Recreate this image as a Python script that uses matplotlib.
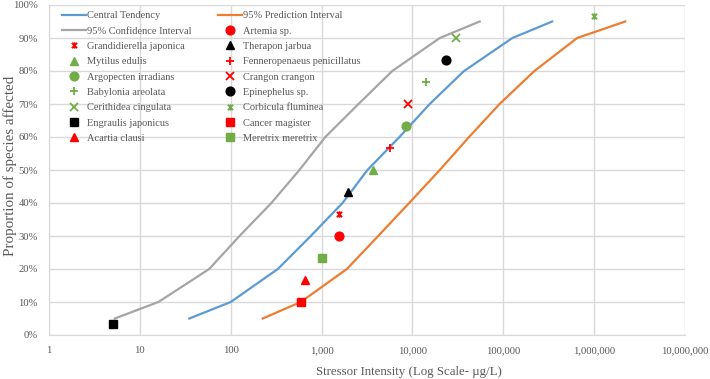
import matplotlib
matplotlib.use("Agg")
import matplotlib.pyplot as plt
from matplotlib.path import Path
from matplotlib.ticker import FixedLocator, FuncFormatter

plt.rcParams['font.family'] = ['Liberation Serif', 'DejaVu Serif']

# Fitted curves (percent affected vs stressor intensity)
pct_curve = [5, 10, 20, 30, 40, 50, 60, 70, 80, 90, 95]
central_x = [35, 100, 330, 760, 1700, 3200, 7200, 15500, 37000, 126000, 345000]
confidence_x = [5.3, 16, 58, 125, 280, 570, 1100, 2550, 6000, 20000, 55000]
prediction_x = [225, 590, 1900, 4200, 9200, 20000, 42000, 91000, 220000, 650000, 2200000]

# Species data points
species = ["Engraulis japonicus", "Cancer magister", "Acartia clausi", "Meretrix meretrix",
           "Artemia sp.", "Grandidierella japonica", "Therapon jarbua", "Mytilus edulis",
           "Fenneropenaeus penicillatus", "Argopecten irradians", "Crangon crangon",
           "Babylonia areolata", "Epinephelus sp.", "Cerithidea cingulata", "Corbicula fluminea"]
species_x = [5.0, 590, 665, 1000, 1550, 1550, 1950, 3650, 5600, 8600, 8900, 14200, 23600, 30000, 1000000]
species_pct = [3.33, 10.0, 16.67, 23.33, 30.0, 36.67, 43.33, 50.0, 56.67, 63.33, 70.0, 76.67, 83.33, 90.0, 96.67]

RED, BLACK, GREEN = '#FF0000', '#000000', '#70AD47'
TXT = '#595959'
star = Path([(-1, -1), (1, 1), (-1, 1), (1, -1), (0, -1.2), (0, 1.2)],
            [Path.MOVETO, Path.LINETO, Path.MOVETO, Path.LINETO, Path.MOVETO, Path.LINETO])
styles = {
    "Engraulis japonicus": (BLACK, 's', 6.3),
    "Cancer magister": (RED, 's', 6.3),
    "Acartia clausi": (RED, '^', 6.3),
    "Meretrix meretrix": (GREEN, 's', 6.3),
    "Artemia sp.": (RED, 'o', 6.3),
    "Grandidierella japonica": (RED, star, 4.6),
    "Therapon jarbua": (BLACK, '^', 6.3),
    "Mytilus edulis": (GREEN, '^', 6.3),
    "Fenneropenaeus penicillatus": (RED, '+', 6.3),
    "Argopecten irradians": (GREEN, 'o', 6.3),
    "Crangon crangon": (RED, 'x', 5.3),
    "Babylonia areolata": (GREEN, '+', 6.3),
    "Epinephelus sp.": (BLACK, 'o', 6.3),
    "Cerithidea cingulata": (GREEN, 'x', 5.3),
    "Corbicula fluminea": (GREEN, star, 4.6),
}

fig = plt.figure(figsize=(7.10, 3.79), dpi=100)
ax = fig.add_axes([49/710, 1-335/379, (685-49)/710, 330/379])

handles = {}
handles["Central Tendency"], = ax.plot(central_x, pct_curve, color='#5B9BD5', lw=1.6)
handles["95% Confidence Interval"], = ax.plot(confidence_x, pct_curve, color='#A5A5A5', lw=1.6)
handles["95% Prediction Interval"], = ax.plot(prediction_x, pct_curve, color='#ED7D31', lw=1.6)

for name, x, y in zip(species, species_x, species_pct):
    c, m, s = styles[name]
    lined = m in ('+', 'x') or m is star
    h, = ax.plot([x], [y], linestyle='none', marker=m, color=c, markersize=s,
                 markeredgewidth=1.3 if lined else 1.0)
    handles[name] = h

ax.set_xscale('log')
ax.set_xlim(1, 1e7)
ax.set_ylim(0, 100)
ax.xaxis.set_major_locator(FixedLocator([10**i for i in range(8)]))
ax.xaxis.set_minor_locator(FixedLocator([]))
ax.xaxis.set_major_formatter(FuncFormatter(lambda v, p: f"{int(round(v)):,}"))
ax.yaxis.set_major_locator(FixedLocator(list(range(0, 101, 10))))
ax.yaxis.set_major_formatter(FuncFormatter(lambda v, p: f"{int(v)}%"))
ax.grid(True, color='#D9D9D9', lw=1.0)
ax.set_axisbelow(True)
for k, sp in ax.spines.items():
    sp.set_visible(k in ('left', 'bottom'))
    sp.set_color('#D9D9D9')
ax.tick_params(length=0, labelsize=7.7, colors=TXT, pad=8)

fig.text(409/710, 1-372/379, "Stressor Intensity (Log Scale- µg/L)", ha='center', va='center',
         fontsize=9.3, color=TXT)
fig.text(10/710, 1-166/379, "Proportion of species affected", rotation=90,
         ha='center', va='center', fontsize=10.8, color=TXT)

order = ["Central Tendency", "95% Confidence Interval", "Grandidierella japonica", "Mytilus edulis",
         "Argopecten irradians", "Babylonia areolata", "Cerithidea cingulata", "Engraulis japonicus",
         "Acartia clausi",
         "95% Prediction Interval", "Artemia sp.", "Therapon jarbua", "Fenneropenaeus penicillatus",
         "Crangon crangon", "Epinephelus sp.", "Corbicula fluminea", "Cancer magister", "Meretrix meretrix"]
leg = fig.legend([handles[k] for k in order], order, ncol=2, loc='upper left',
                 bbox_to_anchor=(62/710, 1-11/379), frameon=False, fontsize=7.5,
                 handlelength=2.3, handletextpad=0.1, columnspacing=2.5,
                 labelspacing=0.58, borderpad=0, borderaxespad=0, numpoints=1)
for t in leg.get_texts():
    t.set_color(TXT)

fig.savefig("out.png", dpi=100)
